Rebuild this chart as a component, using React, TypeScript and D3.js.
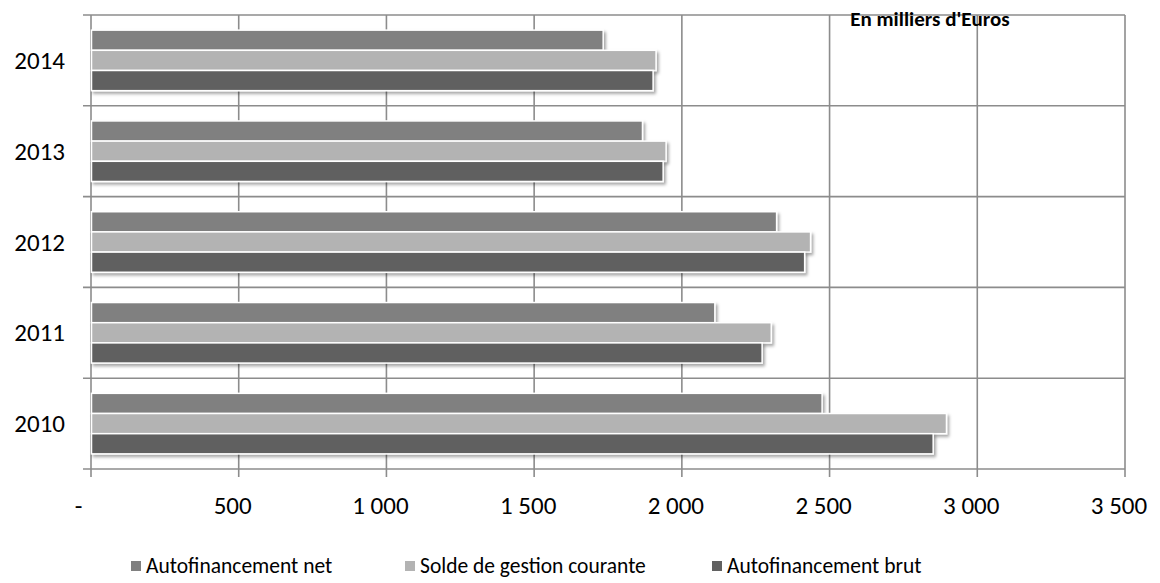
import * as d3 from "d3";

const years = ["2014", "2013", "2012", "2011", "2010"];
const seriesNames = ["Autofinancement net", "Solde de gestion courante", "Autofinancement brut"];
const seriesColors = ["#808080", "#b3b3b3", "#616161"];

// valeurs en milliers d'euros, dans l'ordre de `years`
const autofinancementNet = [1732, 1865, 2319, 2110, 2473];
const soldeGestionCourante = [1911, 1945, 2434, 2301, 2894];
const autofinancementBrut = [1901, 1935, 2414, 2270, 2849];

const xTicks = [0, 500, 1000, 1500, 2000, 2500, 3000, 3500];

const W = 1160;
const H = 583;
const FONT = "Carlito, Calibri, Lato, sans-serif";
const GRID = "#8c8c8c";

const locale = d3.formatLocale({ decimal: ",", thousands: " ", grouping: [3], currency: ["", " €"] });
const fmt = locale.format(",d");

export default function App() {
  const series = [autofinancementNet, soldeGestionCourante, autofinancementBrut];
  const x = d3.scaleLinear().domain([0, 3500]).range([91, 1125]);
  const y = d3.scaleBand().domain(years).range([15, 469]);
  const inner = d3
    .scaleBand<number>()
    .domain([0, 1, 2])
    .range([0, y.bandwidth()])
    .paddingInner(0)
    .paddingOuter(0.75);

  const bottom = y.range()[1];
  const top = y.range()[0];
  const boundaries = [...years.map((yr) => y(yr)!), bottom];

  const legendX = [131, 405, 712];

  return (
    <svg width={W} height={H} style={{ position: "absolute", left: 0, top: 0, background: "#fff" }} fontFamily={FONT}>
      <defs>
        <filter id="shadow" x="-5%" y="-30%" width="115%" height="190%">
          <feDropShadow dx="2" dy="2.5" stdDeviation="1.6" floodColor="#000" floodOpacity="0.35" />
        </filter>
      </defs>

      {/* grille verticale + graduations */}
      {xTicks.map((t) => (
        <line key={`v${t}`} x1={x(t)} x2={x(t)} y1={top} y2={bottom + 8} stroke={GRID} strokeWidth={1.6} />
      ))}
      {/* grille horizontale */}
      {boundaries.map((b, i) => (
        <line key={`h${i}`} x1={83} x2={x(3500)} y1={b} y2={b} stroke={GRID} strokeWidth={1.6} />
      ))}

      {/* barres */}
      {years.map((yr, i) => (
        <g key={yr} transform={`translate(0,${y(yr)})`}>
          {series.map((vals, s) => (
            <rect
              key={s}
              x={x(0) + 0.5}
              y={inner(s)!}
              width={x(vals[i]) - x(0)}
              height={inner.bandwidth()}
              fill={seriesColors[s]}
              stroke="#fff"
              strokeWidth={1.5}
              filter="url(#shadow)"
            />
          ))}
        </g>
      ))}

      {/* libellés années */}
      {years.map((yr) => (
        <text
          key={`l${yr}`}
          x={65}
          y={y(yr)! + y.bandwidth() / 2}
          textAnchor="end"
          dominantBaseline="central"
          fontSize={25}
          fill="#000"
        >
          {yr}
        </text>
      ))}

      {/* libellés axe x */}
      {xTicks.map((t) => (
        <text key={`t${t}`} x={x(t) - (t === 0 ? 12.5 : 6)} y={514} textAnchor="middle" fontSize={25} fill="#000">
          {t === 0 ? "-" : fmt(t)}
        </text>
      ))}

      <text x={930} y={26} textAnchor="middle" fontSize={21} fontWeight="bold" fill="#000">
        En milliers d'Euros
      </text>

      {/* légende */}
      {seriesNames.map((name, s) => (
        <g key={name} transform={`translate(${legendX[s]},566)`}>
          <rect x={0} y={-5} width={10} height={10} fill={seriesColors[s]} />
          <text x={15} y={0} dominantBaseline="central" fontSize={21.5} fill="#000">
            {name}
          </text>
        </g>
      ))}
    </svg>
  );
}
